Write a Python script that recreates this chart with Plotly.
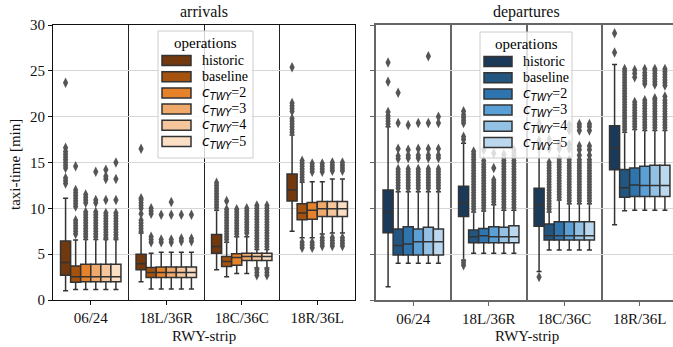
import plotly.graph_objects as go

# ---------------- data ----------------
categories = ["06/24", "18L/36R", "18C/36C", "18R/36L"]
series_labels = ["historic", "baseline",
                 '<span style="font-family:DejaVu Sans"><i>c</i><sub><i>TWY</i></sub></span>=2',
                 '<span style="font-family:DejaVu Sans"><i>c</i><sub><i>TWY</i></sub></span>=3',
                 '<span style="font-family:DejaVu Sans"><i>c</i><sub><i>TWY</i></sub></span>=4',
                 '<span style="font-family:DejaVu Sans"><i>c</i><sub><i>TWY</i></sub></span>=5']
arr_colors = ["#72390f", "#a4520e", "#e5822a", "#efa96b", "#f5c69c", "#fadfc5"]
dep_colors = ["#1b3a5a", "#22557f", "#2e74ae", "#5a9fd6", "#92c1e4", "#bbd8ee"]

# arrivals: one row per series (historic, baseline, c2..c5), one value per RWY-strip
arr_lo = [[1.0, 2.0, 3.3, 7.5],
          [1.15, 1.2, 2.55, 6.8],
          [1.15, 1.2, 2.9, 6.8],
          [1.15, 1.2, 2.9, 7.2],
          [1.15, 1.2, 3.5, 7.3],
          [1.15, 1.2, 3.5, 7.3]]
arr_q1 = [[2.7, 3.3, 5.1, 10.8],
          [1.95, 2.45, 3.65, 8.75],
          [2.0, 2.45, 3.8, 8.8],
          [2.0, 2.45, 4.3, 9.1],
          [2.0, 2.45, 4.3, 9.1],
          [2.0, 2.45, 4.3, 9.1]]
arr_med = [[4.1, 3.95, 5.85, 12.0],
           [2.55, 3.0, 4.2, 9.5],
           [2.55, 3.0, 4.65, 9.8],
           [2.55, 3.0, 4.75, 9.95],
           [2.55, 3.0, 4.75, 9.95],
           [2.55, 3.0, 4.75, 9.95]]
arr_q3 = [[6.45, 5.0, 7.15, 13.75],
          [3.7, 3.55, 4.75, 10.5],
          [3.9, 3.6, 5.05, 10.65],
          [3.9, 3.6, 5.1, 10.75],
          [3.9, 3.6, 5.1, 10.75],
          [3.9, 3.6, 5.1, 10.75]]
arr_hi = [[11.1, 7.3, 9.8, 18.0],
          [6.55, 5.1, 6.3, 12.85],
          [6.6, 5.2, 6.9, 12.9],
          [6.6, 5.2, 6.9, 12.9],
          [6.6, 5.2, 5.5, 13.2],
          [6.6, 5.2, 5.5, 13.2]]

arr_out_historic = [[12.7, 13.0, 13.3, 14.4, 14.7, 15.0, 15.3, 15.6, 15.9, 16.2, 16.6, 23.7],
                    [7.5, 7.8, 8.1, 8.4, 8.7, 9.4, 10.0, 10.3, 10.6, 10.9, 11.1, 16.5],
                    [10.1, 10.4, 10.7, 11.0, 11.3, 11.6, 11.9, 12.2, 12.5, 12.8],
                    [18.3, 18.6, 18.9, 19.2, 19.5, 19.8, 20.6, 20.9, 21.2, 21.5, 25.4]]
arr_out_baseline = [[7.2, 7.5, 7.8, 8.1, 8.4, 8.7, 10.2, 10.5, 10.8, 11.1, 11.4, 11.7, 12.0, 14.6],
                    [6.3, 6.6, 6.9, 9.4, 9.7, 10.0],
                    [6.6, 6.9, 7.2, 7.5, 7.8, 8.1, 8.4, 8.7, 9.0, 9.3, 9.6, 9.9, 10.8],
                    [5.7, 6.0, 6.3, 13.1, 13.4, 13.7, 14.0, 14.3, 14.6, 14.9, 15.2]]
arr_out_c2 = [[6.9, 7.2, 7.5, 7.8, 8.1, 8.4, 8.7, 9.0, 9.3, 9.6, 10.6, 10.9, 11.2, 11.5],
              [6.3, 6.6, 9.3],
              [7.2, 7.5, 7.8, 8.1, 8.4, 8.7, 9.0, 9.3, 9.6, 9.9],
              [5.7, 6.0, 6.3, 14.0, 14.3, 14.6, 14.9]]
arr_out_c3 = [[6.9, 7.2, 7.5, 7.8, 8.1, 8.4, 8.7, 9.0, 9.3, 9.6, 10.6, 10.9, 14.0],
              [6.3, 6.6, 9.3, 10.7],
              [7.3, 7.6, 7.9, 8.2, 8.5, 8.8, 9.1, 9.4, 9.7, 10.0],
              [5.9, 6.2, 6.5, 6.8, 14.0, 14.3, 14.6, 14.9]]
arr_out_c4 = [[6.8, 7.1, 7.4, 7.7, 8.0, 8.3, 8.6, 8.9, 9.2, 9.5, 10.9, 13.2, 13.5, 14.2],
              [6.4, 6.7, 9.3],
              [2.7, 3.0, 3.3, 5.8, 6.1, 6.4, 6.7, 7.0, 7.3, 7.6, 7.9, 8.2, 8.5, 8.8, 9.1, 9.4, 9.7, 10.0, 10.3],
              [5.9, 6.2, 6.5, 6.8, 14.1, 14.4, 14.7, 15.0]]
arr_out_c5 = [[6.8, 7.1, 7.4, 7.7, 8.0, 8.3, 8.6, 8.9, 9.2, 9.5, 10.9, 13.2, 15.0],
              [6.4, 6.7, 9.3],
              [2.7, 3.0, 3.3, 5.8, 6.1, 6.4, 6.7, 7.0, 7.3, 7.6, 7.9, 8.2, 8.5, 8.8, 9.1, 9.4, 9.7, 10.0, 10.3],
              [5.9, 6.2, 6.5, 6.8, 14.1, 14.4, 14.7, 15.0]]

# departures
dep_lo = [[1.45, 4.35, 3.1, 8.2],
          [4.0, 5.1, 5.45, 9.75],
          [4.0, 5.1, 5.45, 9.8],
          [4.0, 5.1, 5.45, 9.8],
          [4.0, 5.1, 5.45, 9.8],
          [4.0, 5.1, 5.45, 9.8]]
dep_q1 = [[7.35, 9.1, 8.05, 14.2],
          [4.9, 6.25, 6.55, 11.2],
          [4.9, 6.25, 6.55, 11.3],
          [4.9, 6.25, 6.55, 11.3],
          [4.9, 6.25, 6.55, 11.3],
          [4.9, 6.25, 6.55, 11.3]]
dep_med = [[9.55, 10.6, 10.4, 16.6],
           [5.95, 6.9, 7.0, 12.25],
           [6.1, 7.0, 7.0, 12.55],
           [6.35, 6.9, 7.0, 12.5],
           [6.35, 6.9, 7.0, 12.5],
           [6.35, 6.9, 7.0, 12.5]]
dep_q3 = [[12.0, 12.4, 12.2, 19.0],
          [7.75, 7.65, 8.3, 14.25],
          [8.0, 7.8, 8.55, 14.4],
          [7.75, 8.0, 8.55, 14.6],
          [7.95, 7.95, 8.55, 14.7],
          [7.75, 8.1, 8.55, 14.7]]
dep_hi = [[18.9, 17.1, 16.5, 25.7],
          [11.8, 9.6, 9.6, 18.3],
          [11.8, 9.7, 10.9, 18.6],
          [11.8, 10.4, 10.5, 18.5],
          [11.8, 9.8, 10.5, 18.5],
          [11.8, 9.8, 10.5, 18.5]]

dep_out_historic = [[19.2, 19.5, 19.8, 20.1, 20.5, 23.8, 25.9],
                    [3.8, 4.1, 17.5, 17.8, 19.3, 19.6, 19.9, 20.2, 20.6],
                    [2.5, 17.0, 17.4, 18.6, 18.9, 19.3],
                    [27.0, 29.1]]
dep_out_baseline = [[12.2, 12.5, 12.8, 13.1, 13.4, 13.7, 14.0, 14.3, 15.4, 15.7, 16.5, 19.3, 22.6],
                    [9.9, 10.2, 10.5, 10.8, 11.1, 11.4, 11.7, 12.0, 12.3, 12.6, 12.9, 13.2, 13.5, 13.8,
                     14.1, 14.4, 14.7, 15.0, 15.3, 15.6, 15.9, 16.2],
                    [9.9, 10.2, 10.5, 10.8, 11.1, 11.4, 11.7, 12.0, 12.3, 12.6, 12.9, 13.2, 13.5, 13.8,
                     14.1, 14.4, 14.7, 15.0, 16.5, 17.5],
                    [18.6, 18.9, 19.2, 19.5, 19.8, 20.1, 20.4, 20.7, 21.0, 21.3, 21.6, 21.9, 22.2, 22.5,
                     22.8, 23.1, 23.4, 23.7, 24.0, 24.3, 24.6, 24.9, 25.2]]
dep_out_c2 = [[12.2, 12.5, 12.8, 13.1, 13.4, 13.7, 14.0, 14.3, 15.5, 15.8, 16.4, 19.1],
              [10.0, 10.3, 10.6, 10.9, 11.2, 11.5, 11.8, 12.1, 12.4, 12.7, 13.0, 13.3, 13.6, 13.9,
               14.2, 14.5, 14.8, 15.2, 16.4],
              [11.2, 11.5, 11.8, 12.1, 12.4, 12.7, 13.0, 13.3, 13.6, 13.9, 14.2, 14.5, 14.8, 15.1,
               15.4, 16.5, 17.0],
              [18.9, 19.2, 19.5, 19.8, 20.1, 20.4, 20.7, 21.0, 21.3, 21.6, 24.3, 24.7, 25.1]]
dep_out_c3 = [[12.2, 12.5, 12.8, 13.1, 13.4, 13.7, 14.0, 14.3, 15.5, 15.8, 16.5, 19.3],
              [10.7, 11.0, 11.3, 11.6, 11.9, 12.2, 12.5, 12.8, 13.1, 14.4, 16.0],
              [10.8, 11.1, 11.4, 11.7, 12.0, 12.3, 12.6, 12.9, 13.2, 13.5, 13.8, 14.1, 14.4, 14.7,
               15.0, 15.3, 16.5, 17.0, 18.5, 19.1],
              [18.8, 19.1, 19.4, 19.7, 20.0, 20.3, 20.6, 20.9, 21.2, 21.5, 21.8, 23.6, 23.9, 24.2,
               24.5, 24.8, 25.2]]
dep_out_c4 = [[12.2, 12.5, 12.8, 13.1, 13.4, 13.7, 14.0, 14.3, 15.5, 15.8, 16.5, 19.3, 26.6],
              [10.1, 10.4, 10.7, 11.0, 11.3, 11.6, 11.9, 12.2, 12.5, 12.8, 13.1, 13.4, 13.7, 14.0,
               14.3, 14.6, 14.9, 15.2, 15.5, 15.9],
              [10.8, 11.1, 11.4, 11.7, 12.0, 12.3, 12.6, 12.9, 13.2, 13.5, 13.8, 14.1, 14.4, 14.7,
               15.0, 15.3, 15.8, 16.4, 16.8, 18.5, 18.9, 19.2],
              [18.8, 19.1, 19.4, 19.7, 20.0, 20.3, 20.6, 20.9, 21.2, 21.5, 21.8, 22.0, 23.5, 23.8,
               24.1, 24.4, 24.7, 25.0, 25.2]]
dep_out_c5 = [[12.2, 12.5, 12.8, 13.1, 13.4, 13.7, 14.0, 14.3, 15.5, 15.8, 16.5, 19.3, 20.0],
              [10.1, 10.4, 10.7, 11.0, 11.3, 11.6, 11.9, 12.2, 12.5, 12.8, 13.1, 13.4, 13.7, 14.0,
               14.3, 14.6, 14.9, 15.2, 15.5, 15.8, 16.1, 16.4],
              [10.8, 11.1, 11.4, 11.7, 12.0, 12.3, 12.6, 12.9, 13.2, 13.5, 13.8, 14.1, 14.4, 14.7,
               15.0, 15.3, 15.8, 16.4, 16.8, 18.5, 18.9, 19.2],
              [18.8, 19.1, 19.4, 19.7, 20.0, 20.3, 20.6, 20.9, 21.2, 21.5, 21.8, 22.2, 23.4, 23.7,
               24.0, 24.3, 24.6, 24.9, 25.2]]

arr_outliers = [arr_out_historic, arr_out_baseline, arr_out_c2, arr_out_c3, arr_out_c4, arr_out_c5]
dep_outliers = [dep_out_historic, dep_out_baseline, dep_out_c2, dep_out_c3, dep_out_c4, dep_out_c5]

# ---------------- layout helpers ----------------
FONT = "Liberation Serif"
W, H = 673, 347
PLOT_L, PLOT_R, PLOT_T, PLOT_B = 53, 673, 25, 300      # plot area in pixels
ML, MR, MT, MB = PLOT_L, W - PLOT_R, PLOT_T, H - PLOT_B
PW, PH = PLOT_R - PLOT_L, PLOT_B - PLOT_T


def fx(px):
    return (px - PLOT_L) / PW


def fy(py):
    return (PLOT_B - py) / PH


n_cat = len(categories)
n_ser = len(series_labels)
BW = 0.8 / n_ser
LEFT_END = 355
RIGHT_START = 375.5
LEFT_DOM = [0, fx(LEFT_END)]
RIGHT_DOM = [fx(RIGHT_START), 1]
GROUP_PX = (LEFT_END - PLOT_L) / n_cat
RIGHT_MAX = -0.5 + (PLOT_R - RIGHT_START) / GROUP_PX
RIGHT_FULL_END = RIGHT_START + n_cat * GROUP_PX

BOX_LINE = "#333333"
FLIER = "#555555"

fig = go.Figure()


def add_panel(xa, ya, lo, q1, med, q3, hi, outs, colors):
    for j in range(n_ser):
        off = (j - (n_ser - 1) / 2) * BW
        xs = [i + off for i in range(n_cat)]
        fig.add_trace(go.Box(
            x=xs, q1=q1[j], median=med[j], q3=q3[j],
            lowerfence=lo[j], upperfence=hi[j],
            width=BW, fillcolor=colors[j],
            line=dict(color=BOX_LINE, width=1.5),
            whiskerwidth=0.5, boxpoints=False,
            xaxis=xa, yaxis=ya, showlegend=False, name=str(j)))
        ox, oy = [], []
        for i in range(n_cat):
            for v in outs[j][i]:
                ox.append(i + off)
                oy.append(v)
        fig.add_trace(go.Scatter(
            x=ox, y=oy, mode="markers",
            marker=dict(symbol="diamond-tall", size=7.5, color=FLIER, line=dict(width=0)),
            xaxis=xa, yaxis=ya, showlegend=False, hoverinfo="y"))


add_panel("x", "y", arr_lo, arr_q1, arr_med, arr_q3, arr_hi, arr_outliers, arr_colors)
add_panel("x2", "y2", dep_lo, dep_q1, dep_med, dep_q3, dep_hi, dep_outliers, dep_colors)

# ---------------- manual legends ----------------
shapes = []
annotations = []


def add_legend(bx0, bx1, by0, by1, sx0, sx1, tx, colors):
    shapes.append(dict(type="rect", xref="paper", yref="paper",
                       x0=fx(bx0), x1=fx(bx1), y0=fy(by1), y1=fy(by0),
                       fillcolor="rgba(255,255,255,0.8)",
                       line=dict(color="#cccccc", width=1), layer="above"))
    annotations.append(dict(text="operations", xref="paper", yref="paper",
                            x=fx((bx0 + bx1) / 2), y=fy(by0 + 12), showarrow=False,
                            xanchor="center", yanchor="middle",
                            font=dict(family=FONT, size=15, color="#000")))
    for k in range(n_ser):
        cy = by0 + 29.5 + k * 16.2
        shapes.append(dict(type="rect", xref="paper", yref="paper",
                           x0=fx(sx0), x1=fx(sx1), y0=fy(cy + 5), y1=fy(cy - 5),
                           fillcolor=colors[k], line=dict(color=BOX_LINE, width=1.5),
                           layer="above"))
        annotations.append(dict(text=series_labels[k], xref="paper", yref="paper",
                                x=fx(tx), y=fy(cy), showarrow=False,
                                xanchor="left", yanchor="middle",
                                font=dict(family=FONT, size=14, color="#000")))


add_legend(158, 253, 31, 158, 162, 191, 200, arr_colors)
add_legend(480, 572, 32, 158, 484, 512, 521, dep_colors)

title_font = dict(family=FONT, size=16, color="#111")
axis_font = dict(family=FONT, size=15, color="#111")
left_center = fx((PLOT_L + LEFT_END) / 2)
right_center = fx((RIGHT_START + RIGHT_FULL_END) / 2)
annotations += [
    dict(text="arrivals", xref="paper", yref="paper", x=left_center, y=fy(12),
         showarrow=False, xanchor="center", yanchor="middle", font=title_font),
    dict(text="departures", xref="paper", yref="paper", x=right_center, y=fy(12),
         showarrow=False, xanchor="center", yanchor="middle", font=title_font),
    dict(text="RWY-strip", xref="paper", yref="paper", x=left_center, y=fy(336),
         showarrow=False, xanchor="center", yanchor="middle", font=axis_font),
    dict(text="RWY-strip", xref="paper", yref="paper", x=right_center, y=fy(336),
         showarrow=False, xanchor="center", yanchor="middle", font=axis_font),
    dict(text="taxi-time [min]", xref="paper", yref="paper", x=fx(15), y=fy(165),
         textangle=-90, showarrow=False, xanchor="center", yanchor="middle", font=axis_font),
]

common_x = dict(tickvals=list(range(n_cat)), ticktext=categories,
                ticks="outside", ticklen=4, tickwidth=1, automargin=False,
                showgrid=False, zeroline=False, showline=True, mirror=True,
                tickfont=axis_font)
common_y = dict(range=[0, 30], tick0=0, dtick=5, ticks="outside", ticklen=4, tickwidth=1,
                showgrid=True, gridcolor="#d6d6d6", gridwidth=1, zeroline=False,
                showline=True, tickfont=axis_font, automargin=False)

fig.update_layout(
    width=W, height=H, autosize=False,
    margin=dict(l=ML, r=MR, t=MT, b=MB, pad=0, autoexpand=False),
    paper_bgcolor="white", plot_bgcolor="white",
    font=dict(family=FONT, size=15, color="#111"),
    boxmode="overlay",
    xaxis=dict(domain=LEFT_DOM, anchor="y", range=[-0.5, n_cat - 0.5],
               linecolor="#111", tickcolor="#111",
               minor=dict(tick0=0.5, dtick=1, showgrid=True, gridcolor="#222", gridwidth=1, ticks=""),
               **common_x),
    xaxis2=dict(domain=RIGHT_DOM, anchor="y2", range=[-0.5, RIGHT_MAX],
                linecolor="#666", linewidth=1.5, tickcolor="#666",
                minor=dict(tick0=0.5, dtick=1, showgrid=True, gridcolor="#666", gridwidth=1.5, ticks=""),
                **common_x),
    yaxis=dict(anchor="x", linecolor="#111", tickcolor="#111", mirror=True, **common_y),
    yaxis2=dict(anchor="x2", linecolor="#666", linewidth=1.5, tickcolor="#666",
                showticklabels=False, **common_y),
    shapes=shapes, annotations=annotations,
    showlegend=False,
)

# remove the browser's default 8px body margin so the figure fills the window
fig.write_html("out.html",
               config={"displayModeBar": False},
               post_script="document.body.style.margin='0px';document.body.style.overflow='hidden';")
